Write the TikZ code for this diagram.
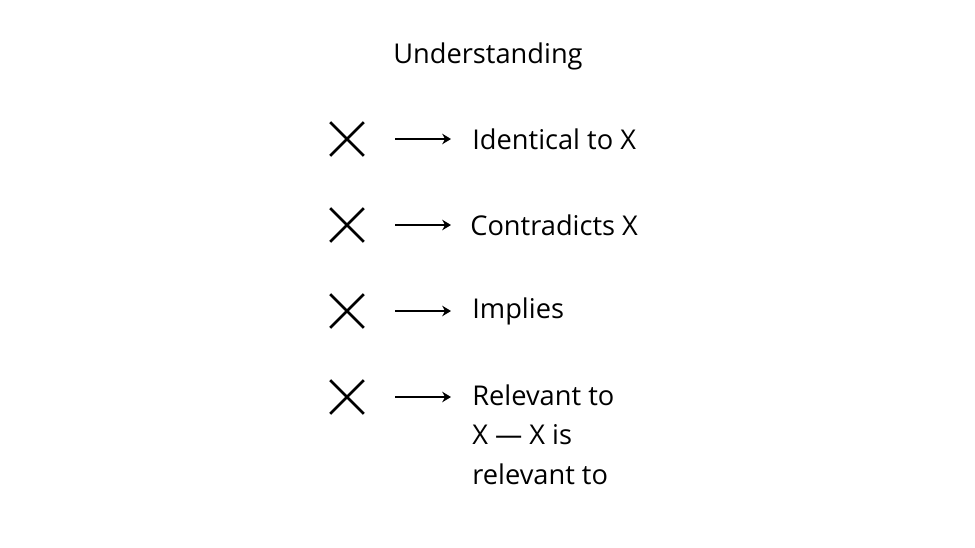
\documentclass[tikz,border=0pt]{standalone}
\usepackage{fontspec}
\setmainfont{Open Sans}
\usetikzlibrary{arrows.meta}
\tikzset{
  cross/.style={minimum size=0.66cm, inner sep=0pt},
  crossline/.style={line width=1.6pt},
  rel/.style={line width=1.6pt, -{Stealth[length=5pt,width=6pt]}},
  label/.style={anchor=west, inner sep=0pt, font=\fontsize{15.5}{22.5}\selectfont, align=left}
}
\begin{document}
\begin{tikzpicture}[x=0.02cm, y=-0.02cm]
    \useasboundingbox (0,0) rectangle (975,548);
    \node[font=\fontsize{15.5}{19}\selectfont] (title) at (488,56) {Understanding};

    % Rows
    \foreach \y/\name in {139/identical, 225/contradicts, 311/implies, 397/relevant} {
        \node[cross] (m\name) at (347,\y) {};
        \draw[crossline] (m\name.north west) -- (m\name.south east);
        \draw[crossline] (m\name.south west) -- (m\name.north east);
        \coordinate (a\name) at (395,\y);
        \coordinate (b\name) at (451,\y);
        \draw[rel] (a\name) -- (b\name);
    }
    \node[label] (tidentical) at (472,139) {Identical to X};
    \node[label] (tcontradicts) at (470,225) {Contradicts X};
    \node[label] (timplies) at (472,311) {Implies};
    \node[label, anchor=north west] (trelevant) at (472,384) {Relevant to\\X — X is\\relevant to};
\end{tikzpicture}
\end{document}
